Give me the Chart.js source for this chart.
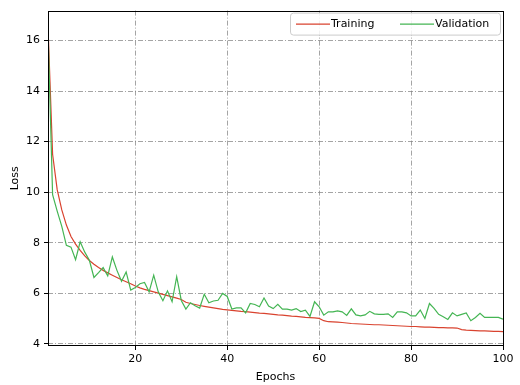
<!DOCTYPE html>
<html>
<head>
<meta charset="utf-8">
<script src="https://cdn.jsdelivr.net/npm/chart.js@4.4.1/dist/chart.umd.min.js"></script>
<style>
  body { margin: 0; background: #fff; }
  #wrap { width: 520px; height: 385px; }
</style>
</head>
<body>
<div id="wrap"><canvas id="lossChart" width="520" height="385"></canvas></div>
<script>
// epoch numbers on the x axis
const epochs = Array.from({ length: 100 }, (_, i) => i + 1);

const trainLoss = [
    16.55, 11.5, 10.1, 9.3, 8.7, 8.25, 7.95, 7.7, 7.48, 7.3,
    7.15, 7.02, 6.91, 6.81, 6.72, 6.63, 6.54, 6.46, 6.38, 6.29,
    6.22, 6.16, 6.11, 6.06, 6.01, 5.96, 5.91, 5.86, 5.81, 5.76,
    5.65, 5.60, 5.56, 5.52, 5.49, 5.46, 5.43, 5.40, 5.37, 5.35,
    5.33, 5.31, 5.29, 5.28, 5.26, 5.24, 5.22, 5.21, 5.19, 5.17,
    5.15, 5.14, 5.12, 5.10, 5.09, 5.07, 5.05, 5.04, 5.03, 5.01,
    4.92, 4.88, 4.87, 4.86, 4.85, 4.83, 4.81, 4.80, 4.79, 4.78,
    4.77, 4.76, 4.76, 4.75, 4.74, 4.73, 4.72, 4.71, 4.70, 4.69,
    4.69, 4.68, 4.67, 4.67, 4.66, 4.65, 4.65, 4.64, 4.64, 4.63,
    4.57, 4.55, 4.54, 4.53, 4.52, 4.52, 4.51, 4.50, 4.50, 4.49
];

const valLoss = [
    16.4, 9.9, 9.25, 8.65, 7.9, 7.83, 7.33, 8.04, 7.63, 7.31,
    6.63, 6.82, 7.02, 6.69, 7.44, 6.91, 6.48, 6.85, 6.13, 6.23,
    6.38, 6.43, 6.06, 6.72, 6.05, 5.71, 6.10, 5.67, 6.66, 5.72,
    5.38, 5.63, 5.51, 5.42, 5.97, 5.63, 5.70, 5.73, 6.00, 5.88,
    5.38, 5.43, 5.43, 5.23, 5.60, 5.56, 5.47, 5.82, 5.50, 5.40,
    5.57, 5.38, 5.38, 5.34, 5.40, 5.28, 5.34, 5.09, 5.67, 5.47,
    5.14, 5.27, 5.27, 5.31, 5.27, 5.13, 5.39, 5.15, 5.11, 5.15,
    5.29, 5.19, 5.17, 5.17, 5.19, 5.05, 5.27, 5.27, 5.23, 5.11,
    5.11, 5.34, 5.01, 5.60, 5.41, 5.17, 5.08, 4.97, 5.23, 5.11,
    5.17, 5.23, 4.92, 5.05, 5.21, 5.05, 5.05, 5.05, 5.05, 4.98
];

const xTicks = [20, 40, 60, 80, 100];
const yTicks = [4, 6, 8, 10, 12, 14, 16];

const ROSSO = "#d9432f";
const VERDE = "#44b553";
const GRIGIO = "rgba(128,128,128,0.9)";

Chart.defaults.font.family = "'DejaVu Sans', sans-serif";
Chart.defaults.font.size = 11;
Chart.defaults.color = "#000";

// frame around the plot + legend box in the upper right corner
const cornice = {
    id: "cornice",
    afterDraw(chart) {
        const c = chart.ctx;
        const a = chart.chartArea;
        c.save();
        c.strokeStyle = "#000";
        c.lineWidth = 1;
        const l = Math.round(a.left), t = Math.round(a.top);
        const r = Math.round(a.right), b = Math.round(a.bottom);
        c.strokeRect(l + 0.5, t + 0.5, r - l, b - t - 1);

        // legend
        const bx = a.right - 213, by = a.top + 2, bw = 210, bh = 22;
        c.beginPath();
        c.roundRect(bx + 0.5, by + 0.5, bw, bh, 3);
        c.fillStyle = "rgba(255,255,255,0.85)";
        c.fill();
        c.strokeStyle = "#cccccc";
        c.stroke();

        const cy = by + bh / 2 + 0.5;
        c.font = "11px 'DejaVu Sans'";
        c.textBaseline = "middle";
        c.fillStyle = "#000";
        let x = bx + 6;
        chart.data.datasets.forEach(ds => {
            c.strokeStyle = ds.borderColor;
            c.lineWidth = 1.2;
            c.beginPath();
            c.moveTo(x, cy);
            c.lineTo(x + 34, cy);
            c.stroke();
            c.fillText(ds.label, x + 35, cy);
            x += 104;
        });
        c.restore();
    }
};

const ctx = document.getElementById("lossChart").getContext("2d");

const chart = new Chart(ctx,
    {
        type: "line",
        data:
        {
            datasets:
                [
                    {
                        label: "Training",
                        data: epochs.map((e, i) => ({ x: e, y: trainLoss[i] })),
                        borderColor: ROSSO,
                        borderWidth: 1.2,
                        pointRadius: 0,
                        order: 1
                    },
                    {
                        label: "Validation",
                        data: epochs.map((e, i) => ({ x: e, y: valLoss[i] })),
                        borderColor: VERDE,
                        borderWidth: 1.2,
                        pointRadius: 0,
                        order: 0
                    }
                ]
        },
        options:
        {
            responsive: false,
            animation: false,
            layout: { padding: { top: 9, right: 17, bottom: 0, left: 0 } },
            plugins: {
                legend: { display: false },
                tooltip: { enabled: false }
            },
            scales:
            {
                x:
                {
                    type: "linear",
                    min: 1,
                    max: 100,
                    afterBuildTicks: s => { s.ticks = xTicks.map(v => ({ value: v })); },
                    afterFit: s => { s.height = 39; },
                    ticks: { padding: 3, color: "#000" },
                    grid: {
                        // the line at 100 sits on the frame, so hide it
                        color: c => (c.tick && c.tick.value === 100) ? "rgba(0,0,0,0)" : GRIGIO,
                        lineWidth: 0.8,
                        tickColor: "#000",
                        tickLength: 4,
                        tickWidth: 1
                    },
                    border: { display: false, dash: [5, 2, 1, 2] },
                    title: {
                        display: true,
                        text: "Epochs",
                        font: { size: 11, lineHeight: 1.2 },
                        padding: { top: 0, bottom: 1 }
                    }
                },
                y:
                {
                    min: 3.92,
                    max: 17.18,
                    afterBuildTicks: s => { s.ticks = yTicks.map(v => ({ value: v })); },
                    afterFit: s => { s.width = 48; },
                    ticks: { padding: 4, color: "#000" },
                    grid: {
                        color: GRIGIO,
                        lineWidth: 0.8,
                        tickColor: "#000",
                        tickLength: 4,
                        tickWidth: 1
                    },
                    border: { display: false, dash: [5, 2, 1, 2] },
                    title: {
                        display: true,
                        text: "Loss",
                        font: { size: 11, lineHeight: 1.2 },
                        padding: { top: 8.4, bottom: 0 }
                    }
                }
            }
        },
        plugins: [cornice]
    });
</script>
</body>
</html>
